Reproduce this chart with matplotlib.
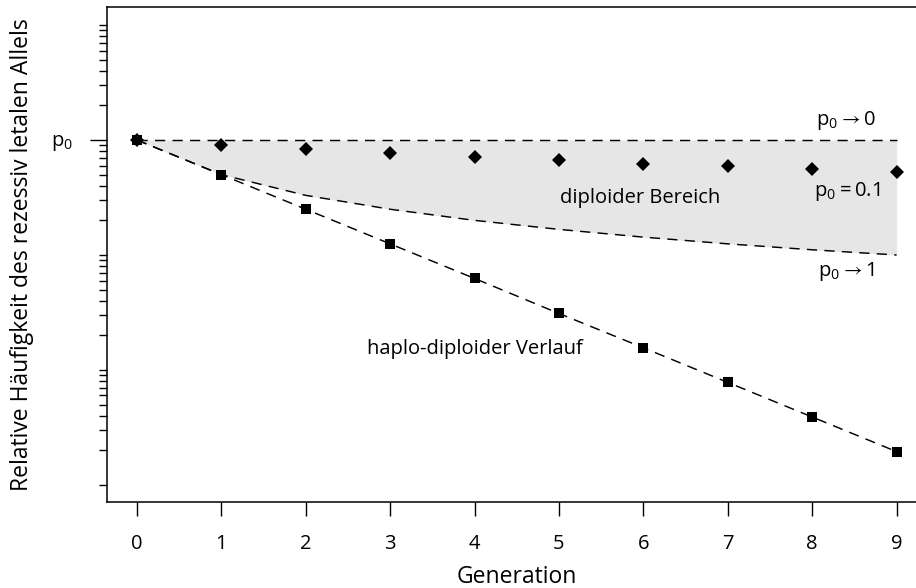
"""Haplo-diploid vs diploid elimination of a recessive lethal allele."""
import matplotlib
matplotlib.use('Agg')
import matplotlib.pyplot as plt

plt.rcParams['font.family'] = ['Open Sans', 'DejaVu Sans']
plt.rcParams['mathtext.fontset'] = 'custom'
plt.rcParams['mathtext.rm'] = 'Open Sans'
plt.rcParams['mathtext.default'] = 'regular'

# data (relative frequency, p0 = 1)
generations = [0, 1, 2, 3, 4, 5, 6, 7, 8, 9]
diploid_p01 = [1, 0.91, 0.83, 0.77, 0.71, 0.67, 0.62, 0.59, 0.56, 0.53]
haplo_diploid = [1, 0.5, 0.25, 0.125, 0.0625, 0.031, 0.0156, 0.0078, 0.0039, 0.00195]
upper_bound = [1, 1, 1, 1, 1, 1, 1, 1, 1, 1]
lower_bound = [1, 0.5, 0.33, 0.25, 0.2, 0.167, 0.143, 0.125, 0.111, 0.1]

minor_ticks = [0.001, 0.002, 0.003, 0.004, 0.005, 0.006, 0.007, 0.008, 0.009,
               0.01, 0.02, 0.03, 0.04, 0.05, 0.06, 0.07, 0.08, 0.09,
               0.1, 0.2, 0.3, 0.4, 0.5, 0.6, 0.7, 0.8, 0.9,
               2, 3, 4, 5, 6, 7, 8, 9, 10]

FS = 14.5        # ticks and annotations
FS_LABEL = 16.5  # axis titles

fig = plt.figure(figsize=(9.16, 5.88), dpi=100)
ax = fig.add_axes([106.5 / 916, 86 / 588, 820.5 / 916, 495 / 588])

ax.fill_between(generations, lower_bound, upper_bound, color='#e6e6e6', lw=0, zorder=1)
dash = dict(color='black', lw=1.05, dashes=(7, 5), zorder=2)
ax.plot(generations, upper_bound, **dash)
ax.plot(generations, lower_bound, **dash)
ax.plot(generations, haplo_diploid, **dash)
ax.plot(generations, haplo_diploid, 's', color='black', ms=7.5, mew=0, zorder=3)
ax.plot(generations, diploid_p01, 'D', color='black', ms=7.5, mew=0, zorder=3)

ax.set_yscale('log')
ax.set_xlim(-0.36, 9.36)
ax.set_ylim(10 ** -3.148, 10 ** 1.1565)

ax.set_xticks(generations)
ax.set_xticklabels([str(g) for g in generations], fontsize=FS)
ax.tick_params(axis='x', length=10, width=1, pad=13)

ax.set_yticks([1])
ax.set_yticklabels([r'$p_0$'], fontsize=FS)
ax.set_yticks(minor_ticks, minor=True)
ax.yaxis.set_minor_formatter(matplotlib.ticker.NullFormatter())
ax.tick_params(axis='y', which='major', length=12, width=1, pad=12)
ax.tick_params(axis='y', which='minor', length=6, width=1)

for s in ax.spines.values():
    s.set_linewidth(1.1)

ax.set_xlabel('Generation', fontsize=FS_LABEL, labelpad=8)
ax.set_ylabel('Relative Häufigkeit des rezessiv letalen Allels', fontsize=FS_LABEL)
ax.yaxis.set_label_coords(-0.088, 0.5)

ax.text(8.40, 1.47, r'$p_0 \rightarrow 0$', fontsize=FS, ha='center', va='center')
ax.text(8.42, 0.353, r'$p_0 = 0.1$', fontsize=FS, ha='center', va='center')
ax.text(8.41, 0.0725, r'$p_0 \rightarrow 1$', fontsize=FS, ha='center', va='center')
ax.text(5.96, 0.313, 'diploider Bereich', fontsize=FS, ha='center', va='center')
ax.text(4.0, 0.0152, 'haplo-diploider Verlauf', fontsize=FS, ha='center', va='center')

fig.savefig('out.png', dpi=100)
